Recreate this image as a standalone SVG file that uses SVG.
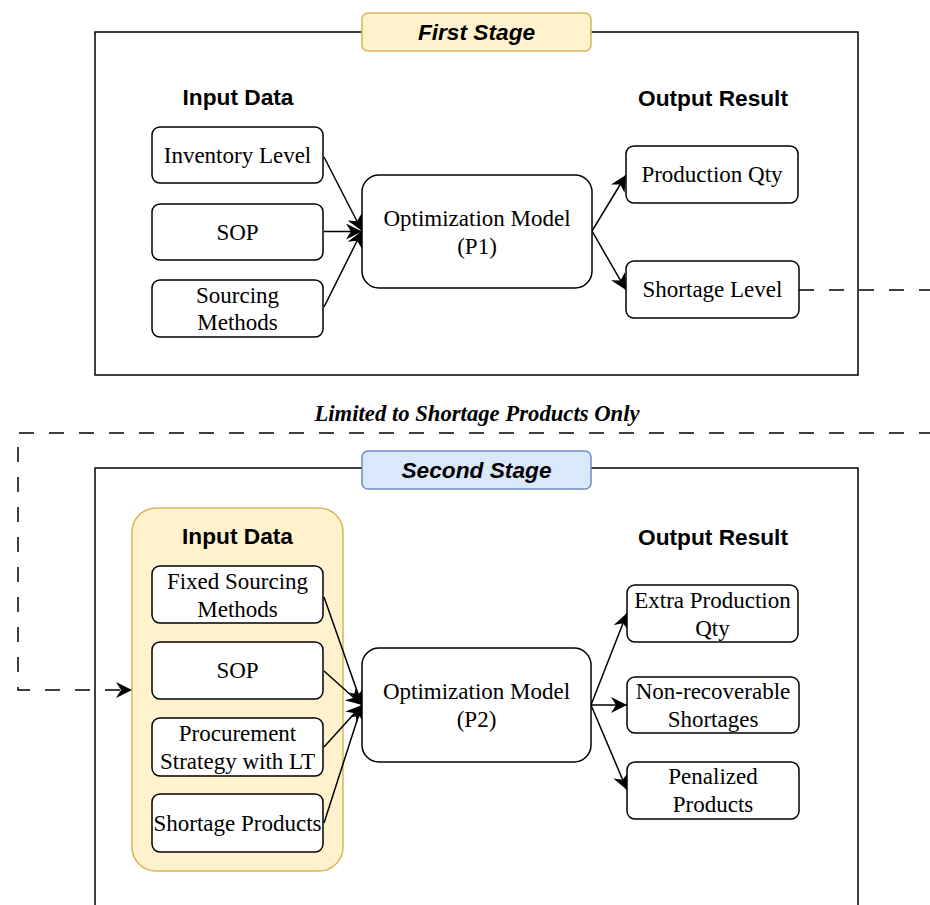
<svg xmlns="http://www.w3.org/2000/svg" width="930" height="905" viewBox="0 0 930 905">
<defs>
<marker id="arr" markerUnits="userSpaceOnUse" markerWidth="18" markerHeight="18" refX="16" refY="8" orient="auto">
<path d="M0,0 L16,8 L0,16 L5,8 Z" fill="#000"/>
</marker>
<style>
.frame{fill:none;stroke:#000;stroke-width:1.5}
.box{fill:#fff;stroke:#000;stroke-width:1.5}
.yel{fill:#fff2cc;stroke:#d6b656;stroke-width:1.5}
.blu{fill:#dae8fc;stroke:#6c8ebf;stroke-width:1.5}
.t{font-family:"Liberation Serif","Times New Roman",serif;font-size:23px;text-anchor:middle;fill:#000}
.h{font-family:"Liberation Sans",Arial,Helvetica,sans-serif;font-size:22.7px;font-weight:bold;text-anchor:middle;fill:#000}
.hi{font-style:italic}
.note{font-family:"Liberation Serif","Times New Roman",serif;font-size:22.7px;font-weight:bold;font-style:italic;text-anchor:middle;fill:#000}
.ln{fill:none;stroke:#000;stroke-width:1.5;marker-end:url(#arr)}
.dash{fill:none;stroke:#000;stroke-width:1.5;stroke-dasharray:15 15;marker-end:url(#arr)}
</style>
</defs>
<rect id="bg" x="0" y="0" width="930" height="905" fill="#fff"/>

<g id="stage1">
<rect class="frame" x="95" y="32" width="763" height="343"/>
<rect class="yel" x="362" y="13" width="229" height="38" rx="6"/>
<text class="h hi" x="476.5" y="39.5">First Stage</text>
<text class="h" x="238" y="105">Input Data</text>
<text class="h" x="713" y="106">Output Result</text>
</g>

<g id="stage2">
<rect class="frame" x="95" y="468" width="763" height="500"/>
<rect class="blu" x="362" y="451" width="229" height="38" rx="6"/>
<text class="h hi" x="476.5" y="477.5">Second Stage</text>
<rect class="yel" x="132" y="508" width="211" height="363" rx="24"/>
<text class="h" x="237.5" y="544">Input Data</text>
<text class="h" x="713" y="545">Output Result</text>
</g>

<g id="connectors">
<line class="ln" x1="324" y1="157" x2="362" y2="231"/>
<line class="ln" x1="324" y1="231.5" x2="362" y2="231.5"/>
<line class="ln" x1="324" y1="307" x2="362" y2="231"/>
<line class="ln" x1="592" y1="231" x2="626" y2="175"/>
<line class="ln" x1="592" y1="231" x2="626" y2="290"/>
<path class="dash" d="M799,290 H945 V433 H18 V690 H132"/>
<line class="ln" x1="324" y1="597" x2="362" y2="705"/>
<line class="ln" x1="324" y1="671" x2="362" y2="705"/>
<line class="ln" x1="324" y1="747" x2="362" y2="705"/>
<line class="ln" x1="324" y1="823" x2="362" y2="705"/>
<line class="ln" x1="591" y1="705" x2="627" y2="613"/>
<line class="ln" x1="591" y1="705" x2="627" y2="705"/>
<line class="ln" x1="591" y1="705" x2="627" y2="790"/>
</g>

<text id="limited" class="note" x="477" y="421">Limited to Shortage Products Only</text>

<g id="inventory1"><rect class="box" x="152" y="127" width="171" height="56" rx="8"/><text class="t" x="237.5" y="163">Inventory Level</text></g>
<g id="sop1"><rect class="box" x="152" y="204" width="171" height="56" rx="8"/><text class="t" x="237.5" y="240">SOP</text></g>
<g id="sourcing1"><rect class="box" x="152" y="280" width="171" height="57" rx="8"/><text class="t" x="237.5" y="303">Sourcing</text><text class="t" x="237.5" y="330">Methods</text></g>
<g id="p1"><rect class="box" x="362" y="175" width="230" height="113" rx="17"/><text class="t" x="477" y="226">Optimization Model</text><text class="t" x="477" y="254">(P1)</text></g>
<g id="prodqty"><rect class="box" x="626" y="146" width="172" height="57" rx="8"/><text class="t" x="712" y="182">Production Qty</text></g>
<g id="shortlevel"><rect class="box" x="626" y="261" width="173" height="57" rx="8"/><text class="t" x="712.5" y="297">Shortage Level</text></g>

<g id="fixedsrc"><rect class="box" x="152" y="566" width="171" height="57" rx="8"/><text class="t" x="237.5" y="589">Fixed Sourcing</text><text class="t" x="237.5" y="617">Methods</text></g>
<g id="sop2"><rect class="box" x="152" y="642" width="171" height="57" rx="8"/><text class="t" x="237.5" y="678">SOP</text></g>
<g id="procure"><rect class="box" x="152" y="718" width="171" height="58" rx="8"/><text class="t" x="237.5" y="741">Procurement</text><text class="t" x="237.5" y="769">Strategy with LT</text></g>
<g id="shortprod"><rect class="box" x="152" y="794" width="171" height="58" rx="8"/><text class="t" x="237.5" y="831">Shortage Products</text></g>
<g id="p2"><rect class="box" x="362" y="648" width="229" height="114" rx="17"/><text class="t" x="476.5" y="699">Optimization Model</text><text class="t" x="476.5" y="727">(P2)</text></g>
<g id="extraprod"><rect class="box" x="627" y="585" width="171" height="57" rx="8"/><text class="t" x="712.5" y="608">Extra Production</text><text class="t" x="712.5" y="636">Qty</text></g>
<g id="nonrecov"><rect class="box" x="627" y="677" width="172" height="56" rx="8"/><text class="t" x="713" y="699">Non-recoverable</text><text class="t" x="713" y="727">Shortages</text></g>
<g id="penalized"><rect class="box" x="627" y="762" width="172" height="57" rx="8"/><text class="t" x="713" y="784">Penalized</text><text class="t" x="713" y="812">Products</text></g>
</svg>
